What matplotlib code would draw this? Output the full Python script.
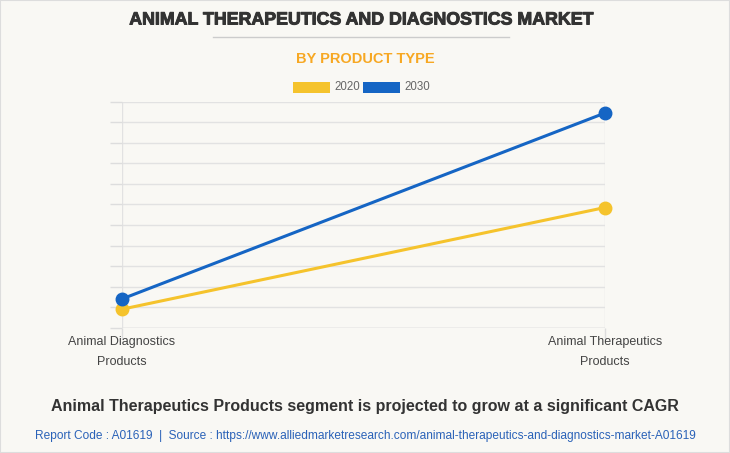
import matplotlib.pyplot as plt
import matplotlib.patheffects as pe
from matplotlib.patches import Rectangle
from matplotlib.lines import Line2D

categories = ["Animal Diagnostics\nProducts", "Animal Therapeutics\nProducts"]
years = ["2020", "2030"]
values_2020 = [0.9, 5.85]
values_2030 = [1.4, 10.45]
colors = {"2020": "#f5c32c", "2030": "#1565c4"}

BG = "#f9f8f4"

fig = plt.figure(figsize=(7.3, 4.53), dpi=100, facecolor=BG)
fig.patches.append(Rectangle((0, 0), 1, 1, transform=fig.transFigure,
                             fill=False, edgecolor="#dddddd", linewidth=1.5))

ax = fig.add_axes([122 / 730, 125.3 / 453, (605 - 122) / 730, 226 / 453])
ax.set_facecolor(BG)

x = list(range(len(categories)))
for year, vals in zip(years, [values_2020, values_2030]):
    ax.plot(x, vals, color=colors[year], linewidth=2.2, marker="o",
            markersize=9, clip_on=False, zorder=3)

ax.set_xlim(0, 1)
ax.set_ylim(0, 11)
ax.set_yticks(range(12))
ax.set_yticklabels([])
ax.tick_params(axis="y", length=9, color="#dddddd", width=1)
ax.set_xticks(x)
ax.set_xticklabels(categories, fontsize=9, color="#444444", linespacing=1.9,
                   family="Liberation Sans")
ax.tick_params(axis="x", length=8, color="#dddddd", width=1, pad=-2)
ax.grid(True, color="#e2e2e2", linewidth=1)
for s in ax.spines.values():
    s.set_visible(False)
ax.axhline(0, color="#cccccc", linewidth=1, zorder=1)

fig.text(361 / 730, 1 - 20 / 453, "ANIMAL THERAPEUTICS AND DIAGNOSTICS MARKET",
         ha="center", va="center", fontsize=12.8, fontweight="bold",
         color="#333333", family="Liberation Sans",
         path_effects=[pe.withStroke(linewidth=0.7, foreground="#333333")])
fig.add_artist(Line2D([213 / 730, 509 / 730], [1 - 37 / 453, 1 - 37 / 453],
                      transform=fig.transFigure, color="#cccccc", linewidth=1))
fig.text(0.5, 1 - 59 / 453, "BY PRODUCT TYPE", ha="center", va="center",
         fontsize=10.5, fontweight="bold", color="#f7a823",
         family="Liberation Sans")

# legend
leg_y = 1 - 87.5 / 453
for x0, tx, year in [(293, 334, "2020"), (363, 404, "2030")]:
    fig.patches.append(Rectangle((x0 / 730, 1 - 93 / 453), 37 / 730, 11 / 453,
                                 transform=fig.transFigure,
                                 facecolor=colors[year], edgecolor="none"))
    fig.text(tx / 730, leg_y, year, ha="left", va="center", fontsize=8.3,
             color="#666666", family="Liberation Sans")

fig.text(0.5, 1 - 407 / 453,
         "Animal Therapeutics Products segment is projected to grow at a significant CAGR",
         ha="center", va="center", fontsize=11.5, fontweight="bold",
         color="#333333", family="Liberation Sans")
fig.text(0.5, 1 - 436 / 453,
         "Report Code : A01619  |  Source : https://www.alliedmarketresearch.com/animal-therapeutics-and-diagnostics-market-A01619",
         ha="center", va="center", fontsize=8.6, color="#2a62b8",
         family="Liberation Sans")

fig.savefig("out.png", dpi=100, facecolor=BG)
